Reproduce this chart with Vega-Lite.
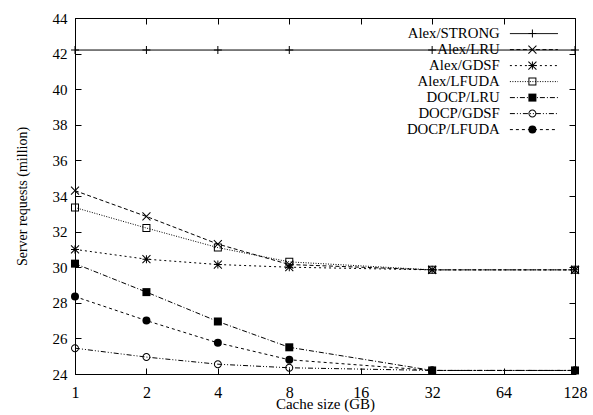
{
  "$schema": "https://vega.github.io/schema/vega-lite/v6.json",
  "width": 500,
  "height": 356,
  "autosize": {"type": "none"},
  "padding": {"left": 75, "top": 18, "right": 18, "bottom": 41},
  "background": "white",
  "config": {
    "view": {"stroke": "black", "strokeWidth": 1},
    "font": "Liberation Serif"
  },
  "data": {
    "values": [
      {"series": "Alex/STRONG", "size": 1, "req": 42.2},
      {"series": "Alex/STRONG", "size": 2, "req": 42.2},
      {"series": "Alex/STRONG", "size": 4, "req": 42.2},
      {"series": "Alex/STRONG", "size": 8, "req": 42.2},
      {"series": "Alex/STRONG", "size": 32, "req": 42.2},
      {"series": "Alex/STRONG", "size": 128, "req": 42.2},
      {"series": "Alex/LRU", "size": 1, "req": 34.3},
      {"series": "Alex/LRU", "size": 2, "req": 32.85},
      {"series": "Alex/LRU", "size": 4, "req": 31.3},
      {"series": "Alex/LRU", "size": 8, "req": 30.15},
      {"series": "Alex/LRU", "size": 32, "req": 29.85},
      {"series": "Alex/LRU", "size": 128, "req": 29.85},
      {"series": "Alex/GDSF", "size": 1, "req": 31.0},
      {"series": "Alex/GDSF", "size": 2, "req": 30.45},
      {"series": "Alex/GDSF", "size": 4, "req": 30.15},
      {"series": "Alex/GDSF", "size": 8, "req": 30.0},
      {"series": "Alex/GDSF", "size": 32, "req": 29.85},
      {"series": "Alex/GDSF", "size": 128, "req": 29.85},
      {"series": "Alex/LFUDA", "size": 1, "req": 33.35},
      {"series": "Alex/LFUDA", "size": 2, "req": 32.2},
      {"series": "Alex/LFUDA", "size": 4, "req": 31.1},
      {"series": "Alex/LFUDA", "size": 8, "req": 30.3},
      {"series": "Alex/LFUDA", "size": 32, "req": 29.85},
      {"series": "Alex/LFUDA", "size": 128, "req": 29.85},
      {"series": "DOCP/LRU", "size": 1, "req": 30.2},
      {"series": "DOCP/LRU", "size": 2, "req": 28.6},
      {"series": "DOCP/LRU", "size": 4, "req": 26.95},
      {"series": "DOCP/LRU", "size": 8, "req": 25.5},
      {"series": "DOCP/LRU", "size": 32, "req": 24.2},
      {"series": "DOCP/LRU", "size": 128, "req": 24.2},
      {"series": "DOCP/GDSF", "size": 1, "req": 25.45},
      {"series": "DOCP/GDSF", "size": 2, "req": 24.95},
      {"series": "DOCP/GDSF", "size": 4, "req": 24.55},
      {"series": "DOCP/GDSF", "size": 8, "req": 24.35},
      {"series": "DOCP/GDSF", "size": 32, "req": 24.2},
      {"series": "DOCP/GDSF", "size": 128, "req": 24.2},
      {"series": "DOCP/LFUDA", "size": 1, "req": 28.35},
      {"series": "DOCP/LFUDA", "size": 2, "req": 27.0},
      {"series": "DOCP/LFUDA", "size": 4, "req": 25.75},
      {"series": "DOCP/LFUDA", "size": 8, "req": 24.8},
      {"series": "DOCP/LFUDA", "size": 32, "req": 24.2},
      {"series": "DOCP/LFUDA", "size": 128, "req": 24.2}
    ]
  },
  "resolve": {"axis": {"x": "independent", "y": "independent"}},
  "layer": [
    {
      "mark": {"type": "line", "color": "black", "strokeWidth": 1},
      "encoding": {
        "x": {
          "field": "size", "type": "quantitative",
          "scale": {"type": "log", "base": 2, "domain": [1, 128], "nice": false},
          "axis": {
            "orient": "bottom", "values": [1, 2, 4, 8, 16, 32, 64, 128], "format": "d",
            "grid": false, "tickSize": -6, "labelPadding": 16, "domainColor": "black", "tickColor": "black",
            "labelFont": "Liberation Serif", "labelFontSize": 16, "labelColor": "black", "labelFlush": false,
            "title": "Cache size (GB)", "titleFont": "Liberation Serif", "titleFontSize": 15,
            "titleFontWeight": "normal", "titleColor": "black", "titlePadding": -4
          }
        },
        "y": {
          "field": "req", "type": "quantitative",
          "scale": {"domain": [24, 44], "nice": false, "zero": false},
          "axis": {
            "orient": "left", "values": [24, 26, 28, 30, 32, 34, 36, 38, 40, 42, 44],
            "grid": false, "tickSize": -6, "labelPadding": 14, "domainColor": "black", "tickColor": "black",
            "labelFont": "Liberation Serif", "labelFontSize": 15, "labelColor": "black", "labelFlush": false,
            "title": "Server requests (million)", "titleFont": "Liberation Serif", "titleFontSize": 14,
            "titleFontWeight": "normal", "titleColor": "black", "titlePadding": 23
          }
        },
        "strokeDash": {
          "field": "series", "type": "nominal",
          "scale": {
            "domain": ["Alex/STRONG", "Alex/LRU", "Alex/GDSF", "Alex/LFUDA", "DOCP/LRU", "DOCP/GDSF", "DOCP/LFUDA"],
            "range": [[1, 0], [4, 2.5], [2, 3], [1, 1.5], [5, 2, 1, 2], [5, 2, 1, 2, 1, 2], [3, 3]]
          },
          "legend": {
            "orient": "none", "legendX": 451.5, "legendY": 8.2, "title": null, "padding": 0,
            "symbolType": "M-12,0L12,0", "symbolSize": 16, "symbolStrokeWidth": 1, "symbolStrokeColor": "black",
            "labelAlign": "right", "labelOffset": -41.5, "labelFont": "Liberation Serif", "labelFontSize": 14.8,
            "labelColor": "black", "rowPadding": 0, "labelLimit": 300
          }
        }
      }
    },
    {
      "mark": {"type": "point", "filled": true, "color": "black", "strokeWidth": 0, "opacity": 1, "size": 64},
      "encoding": {
        "x": {"field": "size", "type": "quantitative", "scale": {"type": "log", "base": 2, "domain": [1, 128], "nice": false}, "axis": null},
        "y": {"field": "req", "type": "quantitative", "scale": {"domain": [24, 44], "nice": false, "zero": false}, "axis": null},
        "shape": {
          "field": "series", "type": "nominal",
          "sort": ["Alex/STRONG", "Alex/LRU", "Alex/GDSF", "Alex/LFUDA", "DOCP/LRU", "DOCP/GDSF", "DOCP/LFUDA"],
          "scale": {
            "range": [
              "M-1,-0.125H1V0.125H-1ZM-0.125,-1H0.125V1H-0.125Z",
              "M-0.912,-1.088L1.088,0.912L0.912,1.088L-1.088,-0.912ZM-0.912,1.088L-1.088,0.912L0.912,-1.088L1.088,-0.912Z",
              "M-1,-0.125H1V0.125H-1ZM-0.125,-1H0.125V1H-0.125ZM-0.912,-1.088L1.088,0.912L0.912,1.088L-1.088,-0.912ZM-0.912,1.088L-1.088,0.912L0.912,-1.088L1.088,-0.912Z",
              "M-1,-1H1V1H-1ZM-0.75,-0.75V0.75H0.75V-0.75Z",
              "square",
              "M-1,0A1,1 0 1,0 1,0A1,1 0 1,0 -1,0ZM-0.75,0A0.75,0.75 0 1,1 0.75,0A0.75,0.75 0 1,1 -0.75,0Z",
              "circle"
            ]
          },
          "legend": {
            "orient": "none", "legendX": 450, "legendY": 8.2, "title": null, "padding": 0,
            "symbolSize": 64, "symbolStrokeWidth": 0, "symbolFillColor": "black",
            "symbolOpacity": 1, "labelOpacity": 0, "labelFont": "Liberation Serif", "labelFontSize": 14.8,
            "rowPadding": 0, "labelLimit": 300
          }
        }
      }
    },
    {
      "mark": {"type": "point", "opacity": 0},
      "encoding": {
        "x": {
          "field": "size", "type": "quantitative",
          "scale": {"type": "log", "base": 2, "domain": [1, 128], "nice": false},
          "axis": {"orient": "top", "values": [1, 2, 4, 8, 16, 32, 64, 128], "labels": false, "domain": false,
                   "grid": false, "tickSize": -6, "tickColor": "black", "title": null}
        },
        "y": {
          "field": "req", "type": "quantitative",
          "scale": {"domain": [24, 44], "nice": false, "zero": false},
          "axis": {"orient": "right", "values": [24, 26, 28, 30, 32, 34, 36, 38, 40, 42, 44], "labels": false,
                   "domain": false, "grid": false, "tickSize": -6, "tickColor": "black", "title": null}
        }
      }
    }
  ]
}
